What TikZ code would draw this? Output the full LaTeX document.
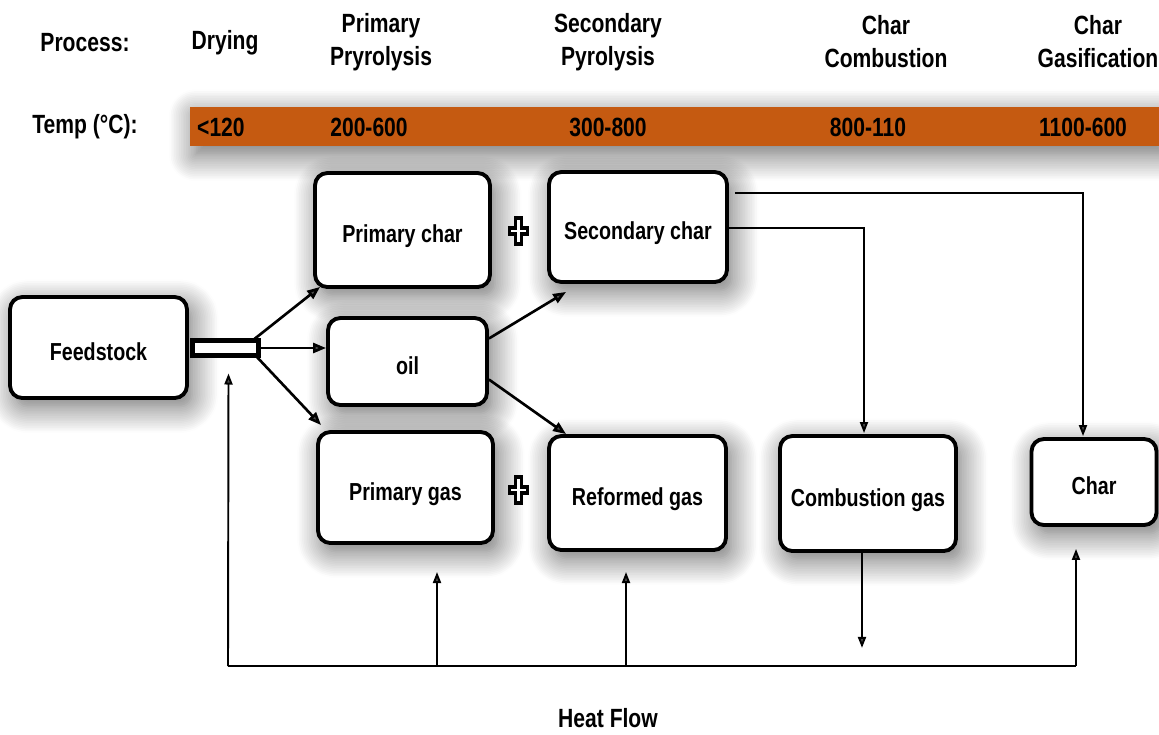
\documentclass[tikz,border=0pt]{standalone}
\usepackage{fontspec}
\setmainfont{Liberation Sans}[FakeStretch=0.8]
\usetikzlibrary{calc,shadows.blur,arrows.meta}
\definecolor{bandc}{RGB}{197,90,17}

\begin{document}
\begin{tikzpicture}[x=0.02cm,y=-0.02cm,
  soft/.style={blur shadow={shadow xshift=3pt,shadow yshift=-5pt,
      shadow blur radius=15pt,shadow blur steps=16,shadow opacity=60}},
  box/.style={draw,fill=white,line width=2.2pt,rounded corners=7pt,
      font=\bfseries\fontsize{14}{16}\selectfont,text height=0.5cm,text depth=0pt,soft},
  head/.style={font=\bfseries\fontsize{15}{18.8}\selectfont,align=center},
  temp/.style={font=\bfseries\fontsize{15}{18}\selectfont},
  feed/.style={line width=1.5pt,-{Triangle[length=0.26cm,width=0.2cm]}},
  link/.style={line width=1.1pt,-{Triangle[length=0.22cm,width=0.16cm]}},
  heat/.style={line width=1.1pt}]
\useasboundingbox (0,0) rectangle (1159,734);

% column headings
\node[head] (hproc) at (85,43) {Process:};
\node[head] (hdry)  at (225,43) {Drying};
\node[head] (hpp)   at (381,42) {Primary\\Pryrolysis};
\node[head] (hsp)   at (608,42) {Secondary\\Pyrolysis};
\node[head] (hcc)   at (886,42) {Char\\Combustion};
\node[head] (hcg)   at (1098,42) {Char\\Gasification};

% temperature band
\node[head] (htemp) at (85,127) {Temp (°C):};
\path[fill=bandc,soft] (190,107) rectangle (1159,146);
\node[temp,anchor=west] (t1) at (191,127) {<120};
\node[temp] (t2) at (369,127) {200-600};
\node[temp] (t3) at (608,127) {300-800};
\node[temp] (t4) at (868,127) {800-110};
\node[temp] (t5) at (1083,127) {1100-600};

% process boxes
\node[box,minimum width=3.54cm,minimum height=2.02cm] (feed) at (98.5,347.5) {Feedstock};
\node[box,minimum width=3.5cm,minimum height=2.28cm] (pchar) at (402.5,230) {Primary char};
\node[box,minimum width=3.56cm,minimum height=2.2cm] (schar) at (638,227) {Secondary char};
\node[box,minimum width=3.18cm,minimum height=1.74cm] (oil) at (407.5,361.5) {oil};
\node[box,minimum width=3.5cm,minimum height=2.22cm] (pgas) at (405.5,487.5) {Primary gas};
\node[box,minimum width=3.54cm,minimum height=2.28cm] (rgas) at (637.5,493) {Reformed gas};
\node[box,minimum width=3.52cm,minimum height=2.3cm] (cgas) at (868,493.5) {Combustion gas};
\node[box,minimum width=2.5cm,minimum height=1.72cm] (char) at (1094,482) {Char};

% outlet tube of the feedstock box
\node[draw,fill=white,line width=2.6pt,minimum width=1.32cm,minimum height=0.3cm,
  inner sep=0pt,outer sep=0pt] (tube) at (225.5,348) {};

% plus signs
\tikzset{pluscross/.pic={
  \draw[line width=2pt,fill=white,line join=miter]
    (-3,-13) -- (3,-13) -- (3,-3) -- (9,-3) -- (9,3) -- (3,3)
    -- (3,13) -- (-3,13) -- (-3,3) -- (-9,3) -- (-9,-3) -- (-3,-3) -- cycle;}}
\pic (plus1) at (518.5,231) {pluscross};
\pic (plus2) at (518.5,490) {pluscross};

% pyrolysis products
\draw[feed] ($(tube.north east)+(-6,0)$) -- ($(pchar.south west)+(7,-2)$);
\draw[feed] (tube.east) -- (tube.east -| oil.west);
\draw[feed] ($(tube.south east)+(-3,0)$) -- ($(pgas.north west)+(5,-5)$);
\draw[feed] ($(oil.east)+(0,-23)$) -- ($(schar.south west)+(19,8)$);
\draw[feed] ($(oil.east)+(0,18)$) -- ($(rgas.north west)+(19,0)$);

% char routes
\coordinate (sc1) at ($(schar.north east)+(6,23)$);
\coordinate (sc2) at ($(schar.east)+(0,1)$);
\draw[link] (sc1) -| ($(char.north)+(-11,-1)$);
\draw[link] (sc2) -| ($(cgas.north)+(-4,-1)$);
\coordinate (cout) at ($(cgas.south)+(-6,95)$);
\draw[link] ($(cgas.south)+(-6,0)$) -- (cout);

% heat flow
\coordinate (hl) at (228,666);
\coordinate (hr) at (1076,666);
\coordinate (h1) at (437,666);
\coordinate (h2) at (626,666);
\draw[heat] (hl) -- (hr);
\draw[link] (hl) -- ($(tube.south)+(3,18)$);
\draw[link] (h1) -- (h1 |- 0,572);
\draw[link] (h2) -- (h2 |- 0,572);
\draw[link] (hr) -- ($(char.south)+(-18,22)$);
\node[head] (hflow) at (608,718) {Heat Flow};
\end{tikzpicture}
\end{document}
